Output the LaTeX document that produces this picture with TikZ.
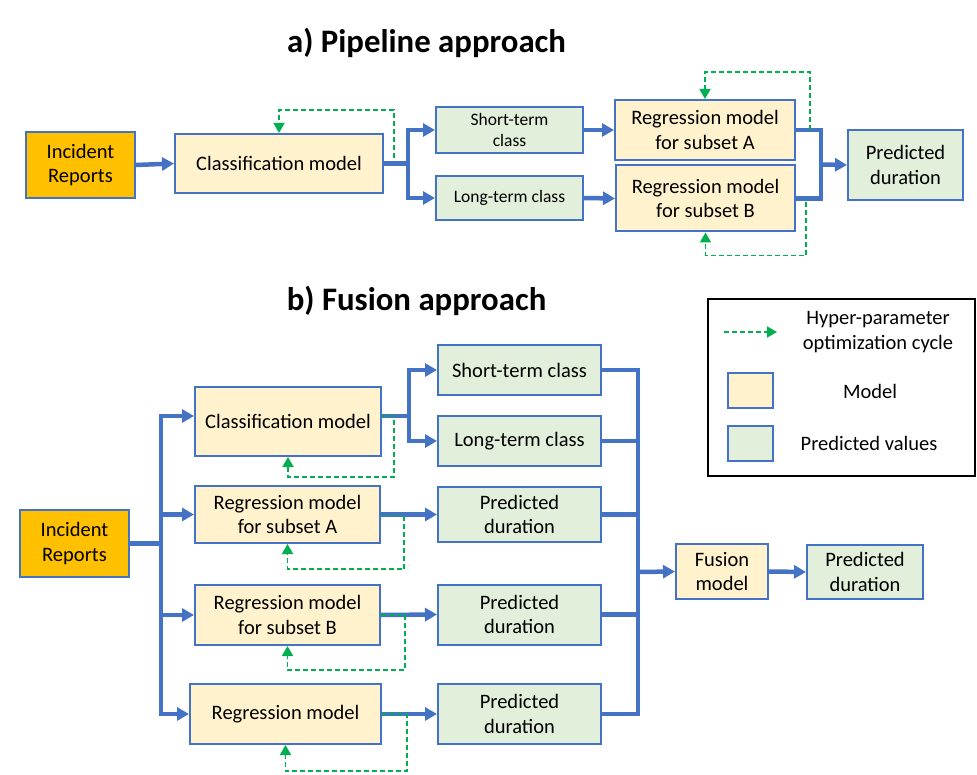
\documentclass[tikz,border=0pt]{standalone}
\usepackage{fontspec}
\setmainfont{Carlito}
\usetikzlibrary{arrows.meta,calc}
\definecolor{bblue}{HTML}{4472C4}
\definecolor{myellow}{HTML}{FFF2CC}
\definecolor{mgreen}{HTML}{E2EFDA}
\definecolor{morange}{HTML}{FFC000}
\definecolor{hgreen}{HTML}{00B050}
\begin{document}
\begin{tikzpicture}[x=1pt,y=-1pt,
  box/.style={draw=bblue, line width=2pt, inner sep=0pt, align=center, font=\fontsize{20.5}{24.5}\selectfont},
  model/.style={box, fill=myellow},
  pred/.style={box, fill=mgreen},
  src/.style={box, fill=morange},
  small/.style={font=\fontsize{17.5}{21}\selectfont},
  line/.style={draw=bblue, line width=4.5pt},
  conn/.style={line, -{Triangle[length=12pt,width=13pt]}},
  hyp/.style={draw=hgreen, line width=1.8pt, dash pattern=on 5pt off 3pt, -{Triangle[length=10pt,width=11pt]}},
  ttl/.style={font=\fontsize{32.8}{36}\selectfont\bfseries, anchor=base},
  lab/.style={font=\fontsize{20.5}{24.5}\selectfont, align=center, inner sep=0pt}
]
\useasboundingbox (0,0) rectangle (977,775);

% ---------- titles ----------
\node[ttl] (ta) at (426.5,53) {a) Pipeline approach};
\node[ttl] (tb) at (416.5,311) {b) Fusion approach};

% ---------- a) pipeline ----------
\node[src, minimum width=109pt, minimum height=66pt] (inc1) at (80.5,165) {Incident\\Reports};
\node[model, minimum width=208pt, minimum height=59pt] (cls1) at (279,163.5) {Classification model};
\node[pred, small, minimum width=147pt, minimum height=46pt] (st1) at (509.5,130) {Short-term\\class};
\node[pred, small, minimum width=147pt, minimum height=44pt] (lt1) at (509.5,198) {Long-term class};
\node[model, minimum width=180pt, minimum height=60pt] (ra1) at (705,130) {Regression model\\for subset A};
\node[model, minimum width=179pt, minimum height=66pt] (rb1) at (705.5,198.5) {Regression model\\for subset B};
\node[pred, minimum width=115pt, minimum height=70pt] (pd1) at (905.5,165) {Predicted\\duration};

\coordinate (s1) at (408,163.5);
\coordinate (j1) at (821,164.5);
\draw[conn] (inc1.east) -- (cls1.west);
\draw[line] (cls1.east) -- (s1);
\draw[conn] (s1) |- (st1.west);
\draw[conn] (s1) |- (lt1.west);
\draw[conn] (st1.east) -- (ra1.west);
\draw[conn] (lt1.east) -- (rb1.west);
\draw[line] (ra1.east) -| (j1) |- (rb1.east);
\draw[conn] (j1) -- (pd1.west);

\coordinate (h1) at (394,158);
\draw[hyp] (h1) |- ($(cls1.north)+(0,-23)$) -- (cls1.north);
\coordinate (h2) at (810,130);
\draw[hyp] (h2) |- ($(ra1.north)+(0,-27)$) -- (ra1.north);
\coordinate (h3) at (806,202);
\draw[hyp] (h3) |- ($(rb1.south)+(0,23)$) -- (rb1.south);

% ---------- b) fusion ----------
\node[src, minimum width=109pt, minimum height=67pt] (inc2) at (74.5,543.5) {Incident\\Reports};
\node[model, minimum width=186pt, minimum height=69pt] (cls2) at (288,421.5) {Classification model};
\node[model, minimum width=185pt, minimum height=57pt] (ra2) at (287.5,514.5) {Regression model\\for subset A};
\node[model, minimum width=185pt, minimum height=60pt] (rb2) at (287.5,615) {Regression model\\for subset B};
\node[model, minimum width=191pt, minimum height=60pt] (r2) at (285.5,714) {Regression model};
\node[pred, minimum width=163pt, minimum height=50pt] (st2) at (519.5,370) {Short-term class};
\node[pred, minimum width=163pt, minimum height=50pt] (lt2) at (519.5,441) {Long-term class};
\node[pred, minimum width=163pt, minimum height=55pt] (p1) at (519.5,514.5) {Predicted\\duration};
\node[pred, minimum width=163pt, minimum height=60pt] (p2) at (519.5,614.5) {Predicted\\duration};
\node[pred, minimum width=163pt, minimum height=60pt] (p3) at (519.5,714) {Predicted\\duration};
\node[model, minimum width=92pt, minimum height=55pt] (fus) at (722,571.5) {Fusion\\model};
\node[pred, minimum width=116pt, minimum height=54pt] (pf) at (865,572) {Predicted\\duration};

\coordinate (t0) at (161,543.5);
\coordinate (tA) at (161,416);
\draw[line] (inc2.east) -- (t0);
\draw[conn] (t0) |- (cls2.west |- tA);
\draw[conn] (t0) |- (ra2.west);
\draw[conn] (t0) |- (rb2.west);
\draw[conn] (t0) |- (r2.west);

\coordinate (s2) at (409,416);
\draw[line] (cls2.east |- s2) -- (s2);
\draw[conn] (s2) |- (st2.west);
\draw[conn] (s2) |- (lt2.west);
\draw[conn] (ra2.east) -- (p1.west);
\draw[conn] (rb2.east) -- (p2.west);
\draw[conn] (r2.east) -- (p3.west);

\coordinate (bus) at (638,572);
\draw[line] (st2.east) -| (bus);
\draw[line] (lt2.east) -| (bus);
\draw[line] (p1.east) -| (bus);
\draw[line] (p2.east) -| (bus);
\draw[line] (p3.east) -| (bus);
\draw[conn] (bus) -- (fus.west);
\draw[conn] (fus.east) -- (pf.west);

\draw[hyp] (cls2.east |- s2) -- ++(12,0) |- ($(cls2.south)+(0,20)$) -- (cls2.south);
\draw[hyp] (ra2.east) -- ++(23,0) |- ($(ra2.south)+(0,25)$) -- (ra2.south);
\draw[hyp] (rb2.east) -- ++(24,0) |- ($(rb2.south)+(0,24)$) -- (rb2.south);
\draw[hyp] (r2.east) -- ++(25,0) |- ($(r2.south)+(0,26)$) -- (r2.south);

% ---------- legend ----------
\node[draw=black, line width=2pt, minimum width=267pt, minimum height=177pt, inner sep=0pt] (leg) at (841.5,387.5) {};
\coordinate (la1) at (724,332);
\coordinate (la2) at (777,332);
\draw[hyp] (la1) -- (la2);
\node[lab] (lt) at (878,332) {Hyper-parameter\\optimization cycle};
\node[model, minimum width=45pt, minimum height=35pt] (sw1) at (750.5,390.5) {};
\node[lab] (lm) at (870,391) {Model};
\node[pred, minimum width=45pt, minimum height=35pt] (sw2) at (750.5,443.5) {};
\node[lab] (lp) at (869,443) {Predicted values};
\end{tikzpicture}
\end{document}
